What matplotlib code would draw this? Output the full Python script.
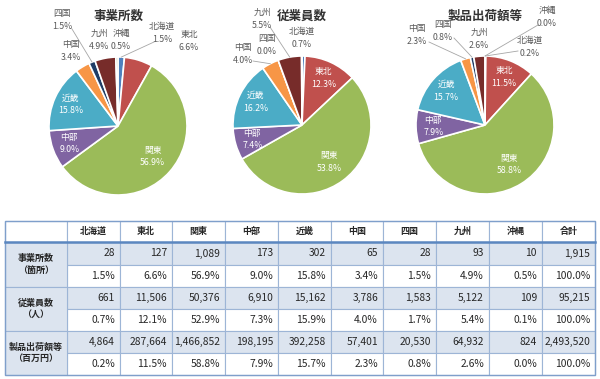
import matplotlib
matplotlib.use('Agg')
import numpy as np
from matplotlib import pyplot as plt
from matplotlib.patches import Rectangle

plt.rcParams['font.family'] = ['Noto Sans CJK JP', 'DejaVu Sans']

# ---- data ----
regions = ['北海道', '東北', '関東', '中部', '近畿', '中国', '四国', '九州', '沖縄']
pie_titles = ['事業所数', '従業員数', '製品出荷額等']

office_share = [1.5, 6.6, 56.9, 9.0, 15.8, 3.4, 1.5, 4.9, 0.5]
worker_share = [0.7, 12.3, 53.8, 7.4, 16.2, 4.0, 0.0, 5.5, 0.1]
shipment_share = [0.2, 11.5, 58.8, 7.9, 15.7, 2.3, 0.8, 2.6, 0.0]

table_cols = ['北海道', '東北', '関東', '中部', '近畿', '中国', '四国', '九州', '沖縄', '合計']
row_labels = ['事業所数\n（箇所）', '従業員数\n（人）', '製品出荷額等\n（百万円）']
office_count = [28, 127, 1089, 173, 302, 65, 28, 93, 10, 1915]
office_pct = [1.5, 6.6, 56.9, 9.0, 15.8, 3.4, 1.5, 4.9, 0.5, 100.0]
worker_count = [661, 11506, 50376, 6910, 15162, 3786, 1583, 5122, 109, 95215]
worker_pct = [0.7, 12.1, 52.9, 7.3, 15.9, 4.0, 1.7, 5.4, 0.1, 100.0]
shipment_count = [4864, 287664, 1466852, 198195, 392258, 57401, 20530, 64932, 824, 2493520]
shipment_pct = [0.2, 11.5, 58.8, 7.9, 15.7, 2.3, 0.8, 2.6, 0.0, 100.0]

# ---- style / layout ----
colors = ['#4F81BD', '#C0504D', '#9BBB59', '#8064A2', '#4BACC6',
          '#F79646', '#1F3D66', '#772C2A', '#C9BE96']
W, H = 600, 379
pie_centers = [(118, 126), (302, 125), (485, 125)]
pie_radius = 69
title_y = 16
label_size = 6.3

# inside labels: distance from centre as fraction of radius
inside = [
    {'関東': 0.67, '中部': 0.75, '近畿': 0.75},
    {'東北': 0.75, '関東': 0.67, '中部': 0.75, '近畿': 0.75},
    {'東北': 0.75, '関東': 0.67, '中部': 0.75, '近畿': 0.75},
]
# outside label: (text x, text y, leader start or None)  in pixels
outside = [
    {'北海道': (162, 33, (154, 42)), '沖縄': (121, 40, None), '九州': (99, 40, None),
     '四国': (62, 20, (72, 29)), '中国': (71, 51, None), '東北': (189, 41, None)},
    {'北海道': (302, 38, None), '九州': (262, 19, (270, 27)),
     '四国': (267, 45, None), '中国': (243, 54, (253, 61))},
    {'沖縄': (547, 17, (538, 25)), '北海道': (530, 47, (518, 51)), '九州': (479, 39, None),
     '四国': (443, 31, (454, 38)), '中国': (417, 35, (429, 42))},
]


def py(y):
    return H - y


fig = plt.figure(figsize=(6, 3.79), dpi=100)
ax = fig.add_axes([0, 0, 1, 1])
ax.set_xlim(0, W)
ax.set_ylim(0, H)
ax.axis('off')

for k, share in enumerate([office_share, worker_share, shipment_share]):
    cx, cy = pie_centers[k]
    wedges, _ = ax.pie(share, colors=colors, startangle=90, counterclock=False,
                       center=(cx, py(cy)), radius=pie_radius, frame=True,
                       wedgeprops=dict(edgecolor='white', linewidth=1.2))
    ax.text(cx, py(title_y), pie_titles[k], ha='center', va='center',
            fontsize=9, fontweight='bold', color='#333333')
    for w, name, v in zip(wedges, regions, share):
        mid = np.deg2rad((w.theta1 + w.theta2) / 2)
        if name in inside[k]:
            d = inside[k][name] * pie_radius
            ax.text(cx + d * np.cos(mid), py(cy) + d * np.sin(mid),
                    f'{name}\n{v:.1f}%', ha='center', va='center', fontsize=label_size,
                    color='white', linespacing=1.5)
        elif name in outside[k]:
            tx, ty, lead = outside[k][name]
            ax.text(tx, py(ty), f'{name}\n{v:.1f}%', ha='center', va='center',
                    fontsize=label_size, color='#595959', linespacing=1.5)
            if lead is not None:
                ex = cx + pie_radius * np.cos(mid)
                ey = py(cy) + pie_radius * np.sin(mid)
                ax.plot([lead[0], ex], [py(lead[1]), ey], color='#A6A6A6', lw=0.6)

ax.set_xlim(0, W)
ax.set_ylim(0, H)
ax.set_aspect('equal')

# ---- table ----
xe = [5, 67, 120, 172, 225, 278, 331, 383, 436, 489, 542, 595]
ye = [221, 242, 265, 287, 309, 331, 353, 375]
shade = '#DCE4EF'
edge = '#9DB5D6'

rows = [office_count, office_pct, worker_count, worker_pct, shipment_count, shipment_pct]
for r, vals in enumerate(rows):
    y0, y1 = ye[r + 1], ye[r + 2]
    fc = shade if r % 2 == 0 else 'white'
    for c, v in enumerate(vals):
        x0, x1 = xe[c + 1], xe[c + 2]
        ax.add_patch(Rectangle((x0, py(y1)), x1 - x0, y1 - y0, facecolor=fc,
                               edgecolor=edge, lw=0.8))
        s = f'{v:,}' if r % 2 == 0 else f'{v:.1f}%'
        ax.text(x1 - 5, py((y0 + y1) / 2), s, ha='right', va='center',
                fontsize=7.4, color='#262626')

for i, lab in enumerate(row_labels):
    y0, y1 = ye[2 * i + 1], ye[2 * i + 3]
    ax.add_patch(Rectangle((xe[0], py(y1)), xe[1] - xe[0], y1 - y0, facecolor=shade,
                           edgecolor=edge, lw=0.8))
    ax.text((xe[0] + xe[1]) / 2, py((y0 + y1) / 2), lab, ha='center', va='center',
            fontsize=6.5, fontweight='bold', color='#262626', linespacing=1.3)

for c in range(len(xe) - 1):
    ax.add_patch(Rectangle((xe[c], py(ye[1])), xe[c + 1] - xe[c], ye[1] - ye[0],
                           facecolor='white', edgecolor=edge, lw=0.8))
    if c > 0:
        ax.text((xe[c] + xe[c + 1]) / 2, py((ye[0] + ye[1]) / 2), table_cols[c - 1],
                ha='center', va='center', fontsize=6.5, fontweight='bold', color='#262626')

ax.plot([xe[0], xe[-1]], [py(ye[1]), py(ye[1])], color='#5B87C0', lw=1.8)
ax.add_patch(Rectangle((xe[0], py(ye[-1])), xe[-1] - xe[0], ye[-1] - ye[0],
                       facecolor='none', edgecolor='#7F9FCB', lw=1.0))

fig.savefig('out.png', dpi=100)
